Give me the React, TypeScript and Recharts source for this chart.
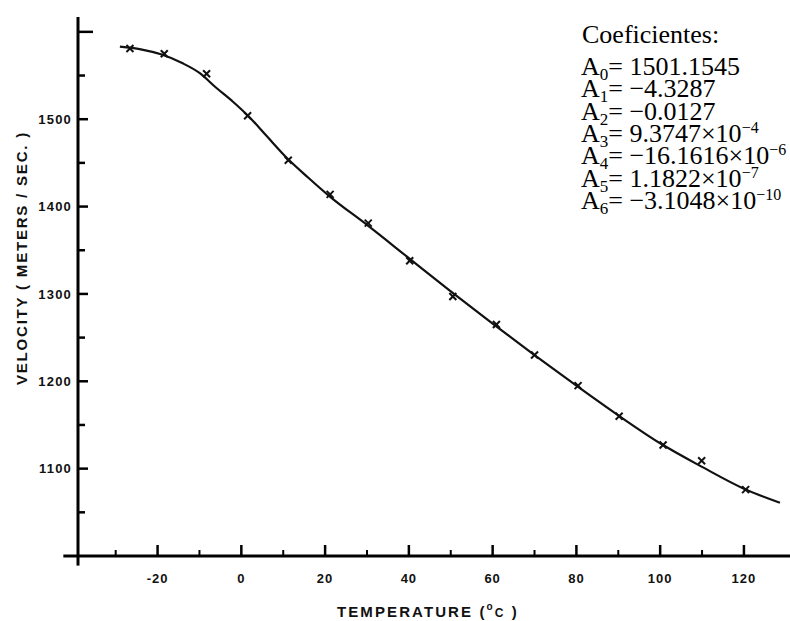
import React from 'react'
import {
  ComposedChart,
  Line,
  Scatter,
  XAxis,
  YAxis,
  ReferenceLine,
} from 'recharts'

// measured points (x marks)
const pointTemps = [-26.6, -18.4, -8.3, 1.5, 11.2, 21.2, 30.3, 40.2, 50.5, 60.9, 70, 80.4, 90.2, 100.7, 109.9, 120.4]
const pointVelocities = [1581, 1575, 1552, 1504, 1453, 1414, 1381, 1338, 1297, 1265, 1230, 1195, 1160, 1127, 1109, 1076]

// fitted curve
const curveTemps = [-29, -24, -19, -14, -10, -6, -2, 2, 6, 11, 16, 21, 30, 40, 50, 60, 70, 80, 90, 100, 110, 120, 128.6]
const curveVelocities = [1583, 1580, 1574, 1564, 1553, 1536, 1520, 1502, 1481, 1455, 1433, 1412, 1379, 1341, 1303, 1266, 1230, 1195, 1161, 1129, 1102, 1077, 1061]

const xTicks = [-30, -20, -10, 0, 10, 20, 30, 40, 50, 60, 70, 80, 90, 100, 110, 120]
const yTicks = [1050, 1100, 1150, 1200, 1250, 1300, 1350, 1400, 1450, 1500, 1550, 1600]
const yLabelled = [1100, 1200, 1300, 1400, 1500]

const coefValues = ['1501.1545', '−4.3287', '−0.0127', '9.3747×10', '−16.1616×10', '1.1822×10', '−3.1048×10']
const coefExponents = ['', '', '', '−4', '−6', '−7', '−10']

const points = pointTemps.map((t, i) => ({ t, v: pointVelocities[i] }))
const curve = curveTemps.map((t, i) => ({ t, v: curveVelocities[i] }))

const labelFont = '"Liberation Sans", Arial, sans-serif'
const serifFont = '"Liberation Serif", "Times New Roman", serif'

function XTick({ x, y, payload }: any) {
  const major = payload.value % 20 === 0
  return (
    <g>
      <line x1={x} x2={x} y1={y} y2={y - (major ? 11 : 6)} stroke="#000" strokeWidth={major ? 2.5 : 2} />
      {major && (
        <text x={x} y={y + 27} textAnchor="middle" fontFamily={labelFont} fontWeight={700} fontSize={13} letterSpacing={1} fill="#111">
          {payload.value}
        </text>
      )}
    </g>
  )
}

function YTick({ x, y, payload }: any) {
  const v = payload.value
  const labelled = yLabelled.includes(v)
  const len = v === 1600 ? 15 : v % 100 === 0 ? 10 : 7
  return (
    <g>
      <line x1={x} x2={x + len} y1={y} y2={y} stroke="#000" strokeWidth={2.5} />
      {labelled && (
        <text x={x - 6} y={y} dy="0.36em" textAnchor="end" fontFamily={labelFont} fontWeight={700} fontSize={13} letterSpacing={1.2} fill="#111">
          {v}
        </text>
      )}
    </g>
  )
}

function Cross({ cx, cy }: any) {
  if (cx == null || cy == null) return null
  const r = 3.5
  return (
    <g stroke="#111" strokeWidth={2}>
      <line x1={cx - r} y1={cy - r} x2={cx + r} y2={cy + r} />
      <line x1={cx - r} y1={cy + r} x2={cx + r} y2={cy - r} />
    </g>
  )
}

export default function App() {
  return (
    <div style={{ position: 'absolute', left: 0, top: 0, width: 790, height: 621, background: '#fff' }}>
      <ComposedChart width={790} height={621} margin={{ top: 17, right: 0, bottom: 0, left: 0 }}>
        <XAxis
          type="number"
          dataKey="t"
          domain={[-39, 131]}
          ticks={xTicks}
          interval={0}
          allowDataOverflow
          height={65}
          tickSize={0}
          tickMargin={0}
          tickLine={false}
          axisLine={{ stroke: '#000', strokeWidth: 3 }}
          tick={<XTick />}
        />
        <YAxis
          type="number"
          dataKey="v"
          domain={[1000, 1617]}
          ticks={yTicks}
          interval={0}
          allowDataOverflow
          width={78}
          tickSize={0}
          tickMargin={0}
          tickLine={false}
          axisLine={{ stroke: '#000', strokeWidth: 3 }}
          tick={<YTick />}
        />
        {/* axis stubs past the origin */}
        <ReferenceLine segment={[{ x: -42.5, y: 1000 }, { x: -39, y: 1000 }]} stroke="#000" strokeWidth={3} ifOverflow="visible" />
        <ReferenceLine segment={[{ x: -39, y: 1000 }, { x: -39, y: 989 }]} stroke="#000" strokeWidth={3} ifOverflow="visible" />
        <Line
          data={curve}
          dataKey="v"
          type="monotone"
          stroke="#111"
          strokeWidth={2.2}
          dot={false}
          activeDot={false}
          isAnimationActive={false}
        />
        <Scatter data={points} dataKey="v" shape={<Cross />} isAnimationActive={false} />
      </ComposedChart>
      <svg width={790} height={621} style={{ position: 'absolute', left: 0, top: 0, pointerEvents: 'none' }}>
        <text
          transform="translate(21,258) rotate(-90)"
          textAnchor="middle"
          dominantBaseline="central"
          fontFamily={labelFont}
          fontWeight={700}
          fontSize={15}
          letterSpacing={1.8}
          fill="#111"
        >
          VELOCITY ( METERS / SEC. )
        </text>
        <text x={337} y={617} fontFamily={labelFont} fontWeight={700} fontSize={15} letterSpacing={2.1} fill="#111">
          TEMPERATURE (
          <tspan fontSize={10} dy={-7}>o</tspan>
          <tspan fontSize={12} dy={7}>C</tspan> )
        </text>
        <text x={582} y={42.7} fontFamily={serifFont} fontSize={26} fill="#000">
          Coeficientes:
        </text>
        {coefValues.map((val, i) => (
          <text key={i} x={581} y={75 + i * 22.35} fontFamily={serifFont} fontSize={26} fill="#000">
            A<tspan fontSize={17} dy={5}>{i}</tspan>
            <tspan dy={-5}>= {val}</tspan>
            {coefExponents[i] && (
              <tspan fontSize={16} dy={-9}>
                {coefExponents[i]}
              </tspan>
            )}
          </text>
        ))}
      </svg>
    </div>
  )
}
